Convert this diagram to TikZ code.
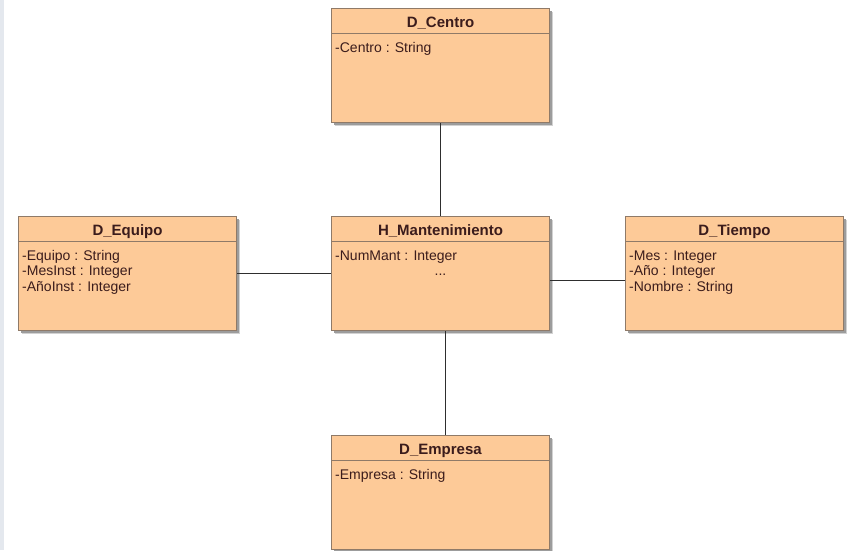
\documentclass[tikz,border=0pt]{standalone}
\usepackage{fontspec}
\setmainfont{Liberation Sans}
\definecolor{boxfill}{HTML}{FDCA98}
\definecolor{boxline}{HTML}{8F7A68}
\definecolor{txt}{HTML}{3B1C1C}
\definecolor{strip}{HTML}{E4E8EE}
\definecolor{shadowcol}{HTML}{9C9C9C}
\definecolor{connline}{HTML}{2E2E2E}
\newcommand\umlclass[4]{%
  \fill[shadowcol!45] (#2+4,#3+4) rectangle ++(218,114);
  \fill[shadowcol] (#2+3,#3+3) rectangle ++(218,114);
  \node[classbox] (#1) at (#2,#3) {};
  \draw[boxline, line width=1pt] (#1.north west) ++(0,25) -- ++(218,0);
  \path (#1.north) ++(0,19) node[classtitle] (#1-t) {#4};
}
\begin{document}
\begin{tikzpicture}[x=1pt,y=-1pt,
  classbox/.style={draw=boxline, line width=1pt, fill=boxfill, minimum width=218pt, minimum height=114pt, inner sep=0pt, anchor=north west},
  classtitle/.style={font=\fontsize{15}{17}\selectfont\bfseries, text=txt, anchor=base, inner sep=0pt},
  attr/.style={font=\fontsize{14}{16}\selectfont, text=txt, anchor=base west, inner sep=0pt},
  conn/.style={draw=connline, line width=1pt}]
\useasboundingbox (0,0) rectangle (848,550);
\clip (0,0) rectangle (848,550);
\fill[white] (0,0) rectangle (848,550);
\fill[strip] (0,0) rectangle (4,550);

\umlclass{C}{331}{8}{D\_Centro}
\umlclass{Eq}{18}{216}{D\_Equipo}
\umlclass{H}{331}{216}{H\_Mantenimiento}
\umlclass{T}{625}{216}{D\_Tiempo}
\umlclass{Em}{331}{435}{D\_Empresa}

% attributes
\path (C.north west) ++(4,44) node[attr] (C-a1) {-Centro : String};

\path (Eq.north west) ++(4,44) node[attr] (Eq-a1) {-Equipo : String};
\path (Eq.north west) ++(4,59.5) node[attr] (Eq-a2) {-MesInst : Integer};
\path (Eq.north west) ++(4,75) node[attr] (Eq-a3) {-AñoInst : Integer};

\path (H.north west) ++(4,44) node[attr] (H-a1) {-NumMant : Integer};
\path (H.north) ++(0,59.5) node[attr, anchor=base] (H-a2) {...};

\path (T.north west) ++(4,44) node[attr] (T-a1) {-Mes : Integer};
\path (T.north west) ++(4,59.5) node[attr] (T-a2) {-Año : Integer};
\path (T.north west) ++(4,75) node[attr] (T-a3) {-Nombre : String};

\path (Em.north west) ++(4,44) node[attr] (Em-a1) {-Empresa : String};

% connectors
\draw[conn] (C.south) -- (H.north);
\draw[conn] (Eq.east) -- (H.west);
\draw[conn] ([yshift=-7pt]H.east) -- ([yshift=-7pt]T.west);
\draw[conn] ([xshift=5pt]H.south) -- ([xshift=5pt]Em.north);
\end{tikzpicture}
\end{document}
